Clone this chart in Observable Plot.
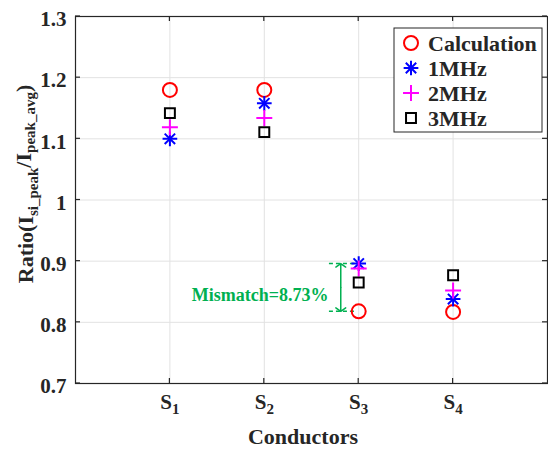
<!DOCTYPE html>
<html><head><meta charset="utf-8">
<script src="https://cdn.jsdelivr.net/npm/d3@7"></script>
<script src="https://cdn.jsdelivr.net/npm/@observablehq/plot@0.6"></script>
<style>
body{margin:0;background:#fff;}
#wrap{position:relative;width:548px;height:449px;}
</style></head><body><div id="wrap"></div>
<script>
// ---- data ----
const conductors = ["S1", "S2", "S3", "S4"];
const calculation = [1.180, 1.180, 0.818, 0.817];
const mhz1 = [1.100, 1.158, 0.896, 0.838];
const mhz2 = [1.119, 1.134, 0.888, 0.852];
const mhz3 = [1.142, 1.111, 0.865, 0.877];
const seriesNames = ["Calculation", "1MHz", "2MHz", "3MHz"];
const yTicks = [0.7, 0.8, 0.9, 1, 1.1, 1.2, 1.3];
const yTickLabels = ["0.7", "0.8", "0.9", "1", "1.1", "1.2", "1.3"];
const mismatchLabel = "Mismatch=8.73%";
const mismatchConductor = "S3";

// ---- build table ----
const seriesValues = [calculation, mhz1, mhz2, mhz3];
const rows = [];
seriesNames.forEach((s, k) => seriesValues[k].forEach((v, i) => rows.push({series: s, conductor: conductors[i], pos: i + 1, value: v})));
const bySeries = s => rows.filter(d => d.series === s);

const font = "Liberation Serif, Times New Roman, serif";
const ink = "#262626";
const green = "#00b050";
const styles = {
  "Calculation": [{symbol: "circle", stroke: "#ff0000", r: 7}],
  "1MHz": [{symbol: "plus", stroke: "#0000ff", r: 4.8}, {symbol: "times", stroke: "#0000ff", r: 4.8}],
  "2MHz": [{symbol: "plus", stroke: "#ff00ff", r: 5.2}],
  "3MHz": [{symbol: "square", stroke: "#000000", r: 5.6}]
};

// mismatch annotation endpoints (from the S3 data)
const mi = conductors.indexOf(mismatchConductor);
const mTop = mhz1[mi], mBot = calculation[mi], mPos = mi + 1;
const mMid = (mTop + mBot) / 2;

const dotMarks = [];
seriesNames.forEach(s => styles[s].forEach(st => dotMarks.push(
  Plot.dot(bySeries(s), {x: "pos", y: "value", symbol: () => st.symbol, r: st.r, stroke: st.stroke, strokeWidth: 2, fill: "none"})
)));

const chart = Plot.plot({
  width: 548, height: 449,
  marginTop: 16, marginBottom: 66, marginLeft: 75, marginRight: 1,
  style: {fontFamily: font, fontWeight: "bold", fontSize: "21px", color: ink, background: "white"},
  x: {domain: [0, 5]},
  y: {domain: [0.7, 1.3]},
  symbol: {type: "identity"},
  marks: [
    Plot.gridY(yTicks, {stroke: "#e2e2e2", strokeOpacity: 1}),
    Plot.gridX(conductors.map((c, i) => i + 1), {stroke: "#e2e2e2", strokeOpacity: 1}),
    Plot.axisY({ticks: yTicks, tickFormat: d => yTickLabels[yTicks.indexOf(d)], tickSize: 0, tickPadding: 9, label: null, fill: ink, dy: 3}),
    Plot.axisX({ticks: conductors.map((c, i) => i + 1), tickFormat: d => conductors[d - 1], tickSize: 0, tickPadding: 11, label: null, fill: ink}),
    // annotation
    Plot.ruleY([mTop, mBot], {x1: mPos - 0.31, x2: mPos - 0.02, stroke: green, strokeWidth: 1.5, strokeDasharray: "4,3"}),
    Plot.arrow([0], {x1: mPos - 0.19, x2: mPos - 0.19, y1: mMid, y2: mTop, stroke: green, strokeWidth: 1.5, headLength: 6, headAngle: 110}),
    Plot.arrow([0], {x1: mPos - 0.19, x2: mPos - 0.19, y1: mMid, y2: mBot, stroke: green, strokeWidth: 1.5, headLength: 6, headAngle: 110}),
    Plot.text([mismatchLabel], {x: mPos - 0.31, y: mMid, dx: -1, dy: 8, text: d => d, textAnchor: "end", fill: green, fontSize: 18, fontWeight: "bold", className: "mm"}),
    ...dotMarks,
    Plot.frame({stroke: ink, strokeWidth: 1.2})
  ]
});
document.getElementById("wrap").appendChild(chart);

// ---- post-processing with the plot's own scales ----
const svg = d3.select(chart);
svg.selectAll("text").style("font-family", font);
const xs = chart.scale("x"), ys = chart.scale("y");
const L = 75, R = 547, T = 16, B = 383;
const tk = svg.append("g").attr("stroke", ink).attr("stroke-width", 1.2);
yTicks.forEach(v => {
  const y = ys.apply(v);
  tk.append("line").attr("x1", L).attr("x2", L + 5).attr("y1", y).attr("y2", y);
  tk.append("line").attr("x1", R).attr("x2", R - 5).attr("y1", y).attr("y2", y);
});
conductors.forEach((c, i) => {
  const x = xs.apply(i + 1);
  tk.append("line").attr("x1", x).attr("x2", x).attr("y1", B).attr("y2", B - 5);
  tk.append("line").attr("x1", x).attr("x2", x).attr("y1", T).attr("y2", T + 5);
});

// subscripts on x tick labels
svg.selectAll('g[aria-label="x-axis tick label"] text').each(function () {
  const t = this.textContent;
  const s = d3.select(this);
  s.text(null);
  s.append("tspan").text(t[0]);
  s.append("tspan").attr("font-size", "15px").attr("dy", "0.3em").text(t.slice(1));
});

// axis titles
svg.append("text").attr("x", 303).attr("y", 444).attr("text-anchor", "middle")
  .style("font-family", font).attr("font-weight", "bold").attr("font-size", "22px").attr("fill", ink).text("Conductors");
const yl = svg.append("text").attr("transform", "translate(33,184) rotate(-90)").attr("text-anchor", "middle")
  .style("font-family", font).attr("font-weight", "bold").attr("font-size", "22px").attr("fill", ink);
yl.append("tspan").text("Ratio(I");
yl.append("tspan").attr("font-size", "15px").attr("dy", "0.3em").text("si_peak");
yl.append("tspan").attr("dy", "-0.3em").attr("font-size", "22px").text("/I");
yl.append("tspan").attr("font-size", "15px").attr("dy", "0.3em").text("peak_avg");
yl.append("tspan").attr("dy", "-0.2em").attr("font-size", "22px").text(")");

// legend
const lg = svg.append("g");
lg.append("rect").attr("x", 394).attr("y", 28).attr("width", 148).attr("height", 104)
  .attr("fill", "white").attr("stroke", ink).attr("stroke-width", 1);
const symMap = {circle: d3.symbolCircle, plus: d3.symbolPlus, times: d3.symbolTimes, square: d3.symbolSquare};
seriesNames.forEach((s, k) => {
  const cy = 43 + 25 * k;
  styles[s].forEach(st => {
    lg.append("path").attr("transform", `translate(411,${cy})`)
      .attr("d", d3.symbol(symMap[st.symbol], Math.PI * st.r * st.r)())
      .attr("fill", "none").attr("stroke", st.stroke).attr("stroke-width", 2);
  });
  lg.append("text").attr("x", 428).attr("y", cy).attr("dy", "0.35em").attr("text-anchor", "start")
    .style("font-family", font).attr("font-weight", "bold").attr("font-size", "22px").attr("fill", ink).text(s);
});
</script>
</body></html>
